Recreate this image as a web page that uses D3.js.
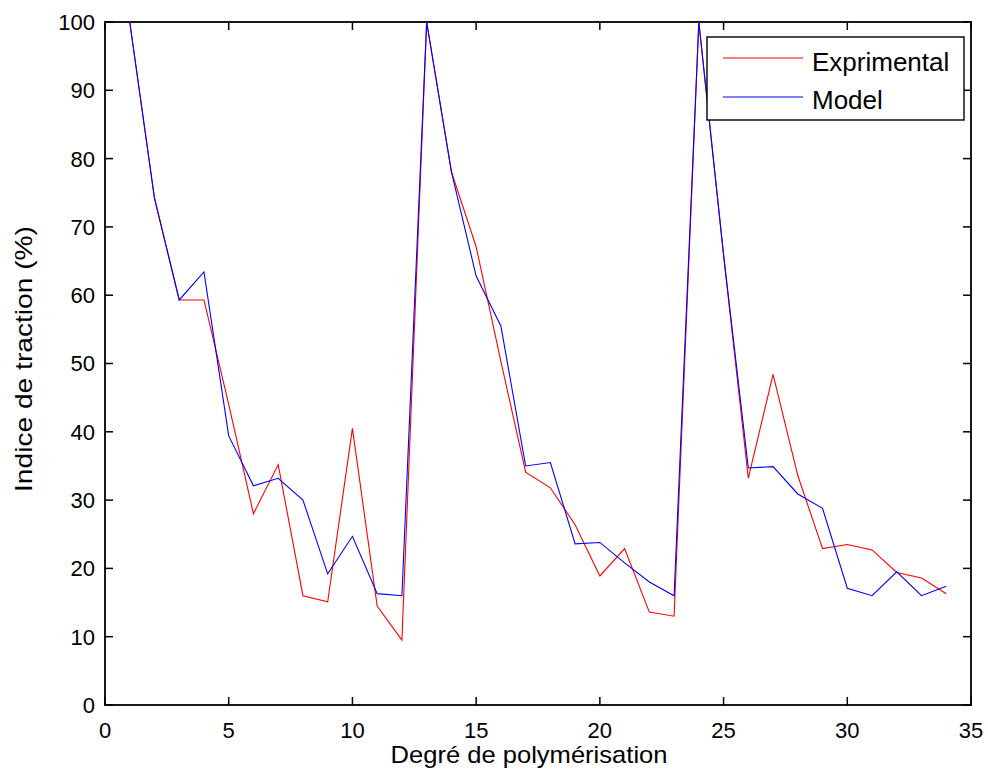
<!DOCTYPE html>
<html>
<head>
<meta charset="utf-8">
<script src="https://cdn.jsdelivr.net/npm/d3@7"></script>
<style>
  html, body { margin: 0; padding: 0; background: #fff; }
  svg { display: block; font-family: "Liberation Sans", Arial, sans-serif; }
</style>
</head>
<body>
<svg id="chart" width="988" height="778"></svg>
<script>
// Degree of polymerisation (x) and tensile index (%) for both series
const degree = d3.range(1, 35);
const experimental = [100, 74.2, 59.3, 59.3, 44.0, 28.0, 35.2, 16.0, 15.1, 40.5,
  14.5, 9.5, 100, 78.1, 67.1, 50.3, 34.1, 31.8, 26.4, 18.9,
  22.9, 13.6, 13.0, 100, 65.9, 33.2, 48.4, 33.6, 22.9, 23.5,
  22.7, 19.4, 18.6, 16.3];
const model = [100, 74.2, 59.3, 63.4, 39.4, 32.1, 33.2, 30.0, 19.2, 24.7,
  16.3, 16.0, 100, 78.1, 62.8, 55.5, 35.0, 35.5, 23.6, 23.8,
  20.8, 18.0, 16.0, 100, 65.9, 34.7, 34.9, 30.9, 28.8, 17.1,
  16.0, 19.5, 16.0, 17.4];
const xTicks = [0, 5, 10, 15, 20, 25, 30, 35];
const yTicks = [0, 10, 20, 30, 40, 50, 60, 70, 80, 90, 100];
const seriesNames = ["Exprimental", "Model"];
const seriesColors = ["#ff0000", "#0000ff"];

const svg = d3.select("#chart");
const plotLeft = 105, plotRight = 971, plotTop = 22, plotBottom = 705;

const x = d3.scaleLinear().domain([0, 35]).range([plotLeft, plotRight]);
const y = d3.scaleLinear().domain([0, 100]).range([plotBottom, plotTop]);

const tickLen = 8;
const tickFont = 22;

// Axis box with inward ticks on all four sides
const axisG = svg.append("g").attr("stroke", "#000").attr("fill", "none");
axisG.append("rect")
  .attr("x", plotLeft).attr("y", plotTop)
  .attr("width", plotRight - plotLeft).attr("height", plotBottom - plotTop)
  .attr("stroke-width", 1.8);

xTicks.forEach(t => {
  const px = x(t);
  axisG.append("line").attr("x1", px).attr("x2", px)
    .attr("y1", plotBottom).attr("y2", plotBottom - tickLen).attr("stroke-width", 1.5);
  axisG.append("line").attr("x1", px).attr("x2", px)
    .attr("y1", plotTop).attr("y2", plotTop + tickLen).attr("stroke-width", 1.5);
});
yTicks.forEach(t => {
  const py = y(t);
  axisG.append("line").attr("x1", plotLeft).attr("x2", plotLeft + tickLen)
    .attr("y1", py).attr("y2", py).attr("stroke-width", 1.5);
  axisG.append("line").attr("x1", plotRight).attr("x2", plotRight - tickLen)
    .attr("y1", py).attr("y2", py).attr("stroke-width", 1.5);
});

// Tick labels
svg.append("g").selectAll("text").data(xTicks).join("text")
  .attr("x", d => x(d)).attr("y", 738)
  .attr("text-anchor", "middle")
  .attr("font-size", tickFont)
  .text(d => d);

svg.append("g").selectAll("text").data(yTicks).join("text")
  .attr("x", 95).attr("y", d => y(d))
  .attr("dy", "0.36em")
  .attr("text-anchor", "end")
  .attr("font-size", tickFont)
  .text(d => d);

// Axis titles
svg.append("text")
  .attr("x", 529).attr("y", 763)
  .attr("text-anchor", "middle")
  .attr("font-size", 24)
  .attr("textLength", 277)
  .attr("lengthAdjust", "spacingAndGlyphs")
  .text("Degré de polymérisation");

svg.append("text")
  .attr("transform", "translate(32,359) rotate(-90)")
  .attr("text-anchor", "middle")
  .attr("font-size", 24)
  .attr("textLength", 266)
  .attr("lengthAdjust", "spacingAndGlyphs")
  .text("Indice de traction (%)");

// Data lines
const line = d3.line().x((d, i) => x(degree[i])).y(d => y(d));
const plot = svg.append("g");
[experimental, model].forEach((vals, k) => {
  plot.append("path")
    .datum(vals)
    .attr("d", line)
    .attr("fill", "none")
    .attr("stroke", seriesColors[k])
    .attr("stroke-width", 1.1);
});

// Legend
const legend = svg.append("g");
legend.append("rect")
  .attr("x", 707).attr("y", 37)
  .attr("width", 257).attr("height", 83)
  .attr("fill", "#fff").attr("stroke", "#000").attr("stroke-width", 1.4);
const legendLineY = [58, 97];
const legendTextY = [71, 109];
seriesNames.forEach((name, k) => {
  legend.append("line")
    .attr("x1", 723).attr("x2", 803)
    .attr("y1", legendLineY[k]).attr("y2", legendLineY[k])
    .attr("stroke", seriesColors[k]).attr("stroke-width", 1.1);
  legend.append("text")
    .attr("x", 812).attr("y", legendTextY[k])
    .attr("font-size", 26)
    .text(name);
});
</script>
</body>
</html>
